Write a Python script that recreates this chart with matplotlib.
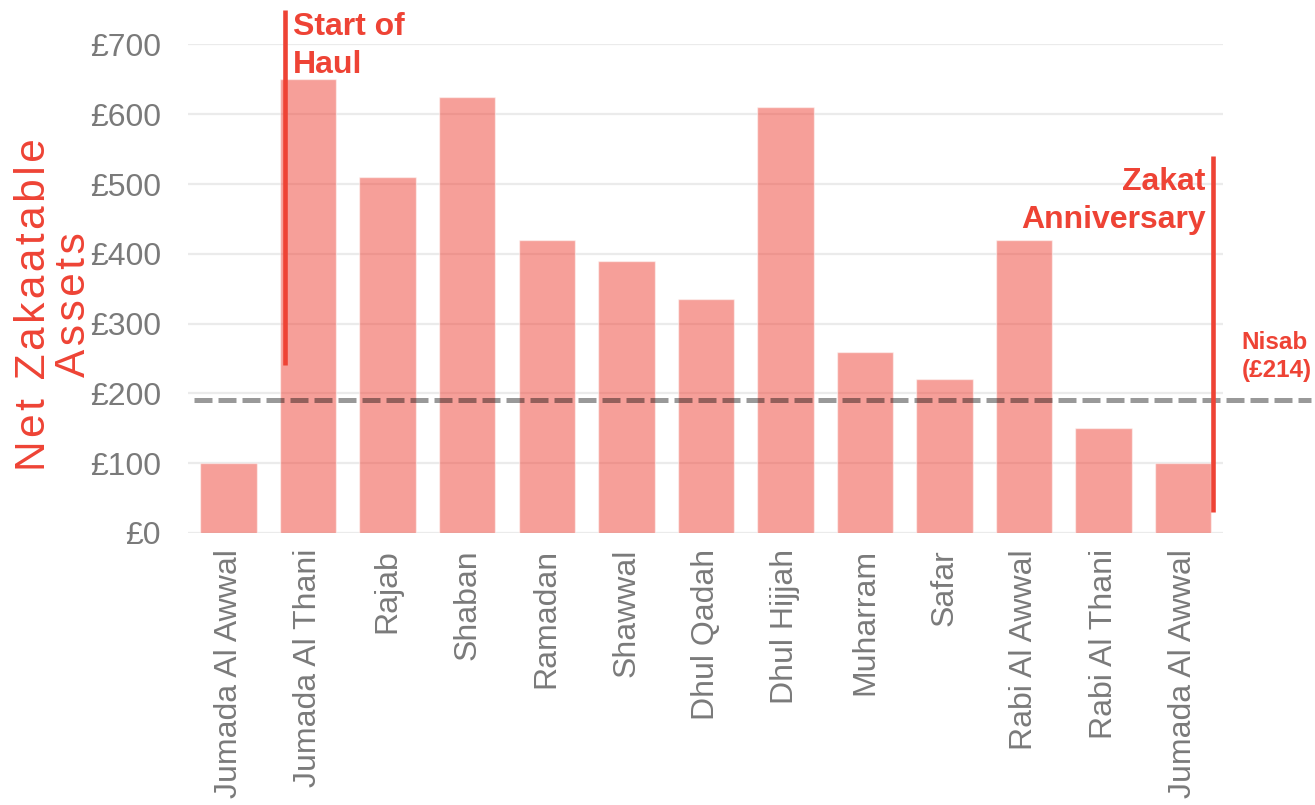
import matplotlib
matplotlib.use("Agg")
import matplotlib.pyplot as plt
import numpy as np

# Monthly net zakaatable assets over one lunar year
months = ["Jumada Al Awwal", "Jumada Al Thani", "Rajab", "Shaban", "Ramadan",
          "Shawwal", "Dhul Qadah", "Dhul Hijjah", "Muharram", "Safar",
          "Rabi Al Awwal", "Rabi Al Thani", "Jumada Al Awwal"]
assets = [100, 650, 510, 625, 420, 390, 335, 610, 260, 220, 420, 150, 100]
nisab_line = 190
y_ticks = [0, 100, 200, 300, 400, 500, 600, 700]

RED = "#ee4335"
GREY_TXT = "#7a7a7a"
FONT = ["Liberation Sans", "DejaVu Sans"]

plt.rcParams["font.family"] = FONT

fig = plt.figure(figsize=(13.15, 8.05), dpi=100)
ax = fig.add_axes([188 / 1315, 1 - 533 / 805, (1223 - 188) / 1315, (533 - 44.4) / 805])

x = np.arange(len(months))
ax.set_axisbelow(True)
ax.yaxis.grid(True, color="#ebebeb", linewidth=1.6)
ax.bar(x, assets, width=0.71, color="#ef4135", alpha=0.5,
       edgecolor=(1, 1, 1, 0.35), linewidth=1, zorder=2)

# Nisab threshold
ax.plot([-0.44, 13.6], [nisab_line, nisab_line], color="black", alpha=0.4,
        linewidth=3.6, dashes=(3.6, 1.2), clip_on=False, zorder=3)

# Haul markers
ax.plot([0.71, 0.71], [240, 750], color=RED, linewidth=3.3, clip_on=False,
        solid_capstyle="butt", zorder=4)
ax.plot([12.38, 12.38], [30, 540], color=RED, linewidth=3.3, clip_on=False,
        solid_capstyle="butt", zorder=4)

# va="baseline" anchors the last line's baseline
ax.text(0.81, 659, "Start of\nHaul", color=RED, fontsize=23, fontweight="bold",
        ha="left", va="baseline", linespacing=1.33, clip_on=False)
ax.text(12.28, 437, "Zakat\nAnniversary", color=RED, fontsize=23, fontweight="bold",
        ha="right", va="baseline", linespacing=1.33, multialignment="right",
        clip_on=False)
ax.text(12.73, 223.5, "Nisab\n(£214)", color=RED, fontsize=17.5, fontweight="bold",
        ha="left", va="baseline", linespacing=1.3, clip_on=False)

ax.set_xlim(-0.51, 12.5)
ax.set_ylim(0, 700)
ax.set_yticks(y_ticks)
ax.set_yticklabels([f"£{v}" for v in y_ticks])
ax.set_xticks(x)
ax.set_xticklabels(months, rotation=90)
ax.tick_params(axis="both", length=0, colors=GREY_TXT, labelsize=23)
ax.tick_params(axis="y", pad=19.5)
ax.tick_params(axis="x", pad=11.5)
for s in ax.spines.values():
    s.set_visible(False)

# Axis title with widened letter spacing
hs = "\u200a"
line1 = hs.join("Net Zakaatable")
line2 = hs.join("Assets")
fig.text(54 / 1315, 1 - 305 / 805, line1 + "\n" + line2, color=RED, fontsize=30.5,
         rotation=90, ha="center", va="center", multialignment="center",
         linespacing=1.0)

fig.savefig("out.png", dpi=100)
